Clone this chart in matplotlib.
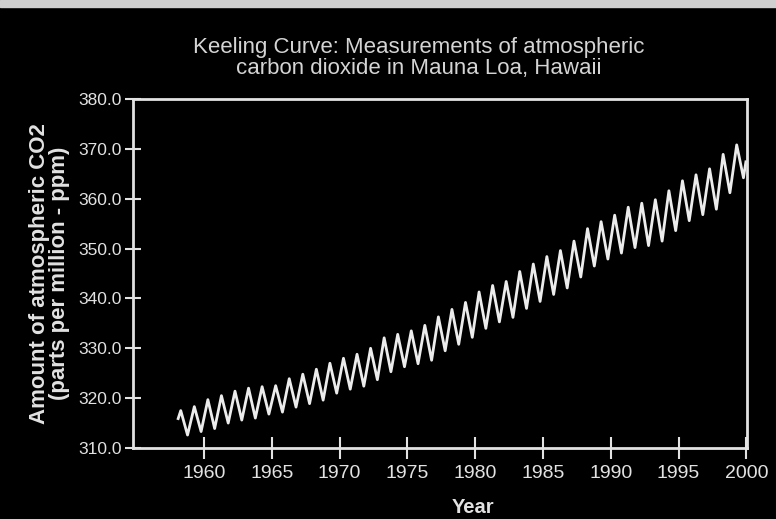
import numpy as np
import matplotlib.pyplot as plt
from matplotlib.patches import Rectangle
from matplotlib.ticker import FormatStrFormatter

plt.rcParams['font.family'] = ['Liberation Sans', 'DejaVu Sans']

# seasonal maximum (spring) and minimum (autumn) readings, ppm
years = list(range(1958, 2000))
may_peak = [317.5, 318.3, 319.7, 320.5, 321.4, 322.0, 322.3, 322.5, 323.9, 324.8,
            325.8, 327.0, 328.0, 328.8, 330.0, 332.1, 332.8, 333.5, 334.6, 336.3,
            337.8, 339.2, 341.3, 342.6, 343.4, 345.4, 346.9, 348.4, 349.6, 351.5,
            354.0, 355.4, 356.7, 358.3, 359.1, 359.8, 361.6, 363.6, 364.8, 366.0,
            368.9, 370.8]
oct_trough = [312.6, 313.3, 313.9, 315.0, 315.6, 316.0, 316.8, 317.2, 318.2, 318.9,
              319.6, 321.0, 321.8, 322.4, 323.7, 325.3, 326.3, 326.9, 327.6, 329.5,
              330.8, 332.2, 334.0, 335.3, 336.2, 338.0, 339.4, 340.8, 342.1, 344.3,
              346.5, 347.9, 349.1, 350.2, 350.6, 351.5, 353.6, 355.6, 356.8, 357.9,
              361.2, 364.2]
peak_month, trough_month = 4, 10
first_reading = (1958.1, 315.9)
last_reading = (1999.97, 367.4)

t = [first_reading[0]]
co2 = [first_reading[1]]
for y, p, tr in zip(years, may_peak, oct_trough):
    t += [y + (peak_month - 0.5) / 12, y + (trough_month - 0.5) / 12]
    co2 += [p, tr]
t.append(last_reading[0])
co2.append(last_reading[1])

fg = '#e2e2e2'
fig = plt.figure(figsize=(7.76, 5.19), dpi=100, facecolor='black')
fig.add_artist(Rectangle((0, 0.986), 1, 0.014, transform=fig.transFigure,
                         color='#d0d0d0', zorder=0))
ax = fig.add_axes([0.1714, 0.1368, 0.7912, 0.6724])
ax.set_facecolor('black')
ax.plot(t, co2, color='#ececec', lw=2.0, solid_joinstyle='round')

ax.set_xlim(1954.77, 2000.05)
ax.set_ylim(310, 380)
ax.set_xticks(range(1960, 2001, 5))
ax.set_yticks(range(310, 381, 10))
ax.yaxis.set_major_formatter(FormatStrFormatter('%.1f'))
for s in ax.spines.values():
    s.set_color(fg)
    s.set_linewidth(2)
ax.tick_params(axis='x', direction='inout', length=16, width=1.5, color=fg,
               labelcolor=fg, labelsize=14, pad=4)
ax.tick_params(axis='y', direction='inout', length=12, width=1.5, color=fg,
               labelcolor=fg, labelsize=12.5, pad=2)

fig.text(0.54, 0.888, 'Keeling Curve: Measurements of atmospheric\ncarbon dioxide in Mauna Loa, Hawaii',
         ha='center', va='center', fontsize=16, color='#d4d4d4', linespacing=1.0)
fig.text(0.064, 0.473, 'Amount of atmospheric CO2\n(parts per million - ppm)',
         ha='center', va='center', rotation=90, fontsize=16, fontweight='bold',
         color=fg, linespacing=0.95)
fig.text(0.61, 0.023, 'Year', ha='center', va='center', fontsize=14.5,
         fontweight='bold', color=fg)

fig.savefig('out.png', dpi=100, facecolor='black')
